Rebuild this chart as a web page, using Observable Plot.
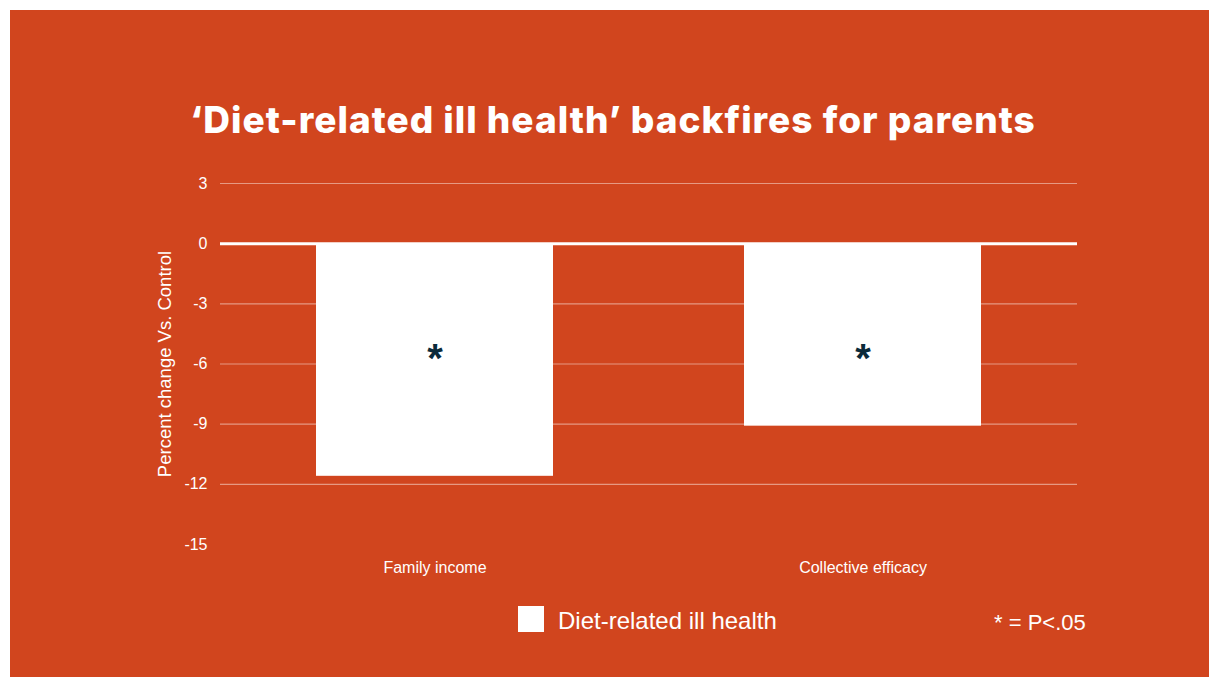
<!DOCTYPE html>
<html>
<head>
<meta charset="utf-8">
<script src="https://cdn.jsdelivr.net/npm/d3@7"></script>
<script src="https://cdn.jsdelivr.net/npm/@observablehq/plot@0.6"></script>
<style>
  html, body { margin: 0; padding: 0; background: #ffffff; width: 1209px; height: 677px; overflow: hidden; }
  #bg { position: absolute; left: 10px; top: 10px; width: 1199px; height: 667px; background: #d1451e; }
  #title { position: absolute; left: 190px; top: 100px; font-family: Inter, "Liberation Sans", sans-serif; font-weight: 800; font-size: 37px; line-height: 40px; color: #fff; white-space: nowrap; letter-spacing: 1px; }
  #chart { position: absolute; left: 0; top: 160px; }
  .leg { position: absolute; font-family: "Liberation Sans", Arial, sans-serif; color: #fff; line-height: 26px; white-space: nowrap; }
  #swatch { position: absolute; left: 518px; top: 606px; width: 26px; height: 26px; background: #fff; }
</style>
</head>
<body>
<div id="bg"></div>
<div id="title">‘Diet-related ill health’ backfires for parents</div>
<div id="chart"></div>
<div id="swatch"></div>
<div class="leg" id="legText" style="left:558px; top:608px; font-size:24px;">Diet-related ill health</div>
<div class="leg" id="note" style="left:994px; top:610px; font-size:22px;">* = P&lt;.05</div>
<script>
const categories = ["Family income", "Collective efficacy"];
const values = [-11.6, -9.1];
const significance = ["*", "*"];
const yTicks = [3, 0, -3, -6, -9, -12, -15];
const gridTicks = [3, -3, -6, -9, -12];
const yLabel = "Percent change Vs. Control";
const seriesName = "Diet-related ill health";

const data = categories.map((c, i) => ({category: c, value: values[i], sig: significance[i]}));

const chart = Plot.plot({
  width: 1209,
  height: 424,
  marginLeft: 220,
  marginRight: 132,
  marginTop: 23,
  marginBottom: 40,
  style: {background: "transparent", color: "white", fontFamily: "'Liberation Sans', Arial, sans-serif", fontSize: "16px", overflow: "visible"},
  x: {domain: categories, paddingInner: 0.447, paddingOuter: 0.2235, label: null, tickSize: 0, tickPadding: 17},
  y: {domain: [-15, 3], ticks: yTicks, label: null, tickSize: 0, tickPadding: 13, tickFormat: d => String(d)},
  marks: [
    Plot.ruleY(gridTicks, {stroke: "white", strokeOpacity: 0.45, strokeWidth: 1.2}),
    Plot.barY(data, {x: "category", y: "value", fill: "white"}),
    Plot.ruleY([0], {stroke: "white", strokeWidth: 3}),
    Plot.text(data, {x: "category", y: () => -5.4, text: "sig", fill: "#0b2a3a", fontSize: 40, fontWeight: "bold", dy: 7}),
    Plot.text([yLabel], {frameAnchor: "left", dx: -55, rotate: -90, textAnchor: "middle", fontSize: 18.5, fill: "white"})
  ]
});
document.getElementById("chart").appendChild(chart);
</script>
</body>
</html>
